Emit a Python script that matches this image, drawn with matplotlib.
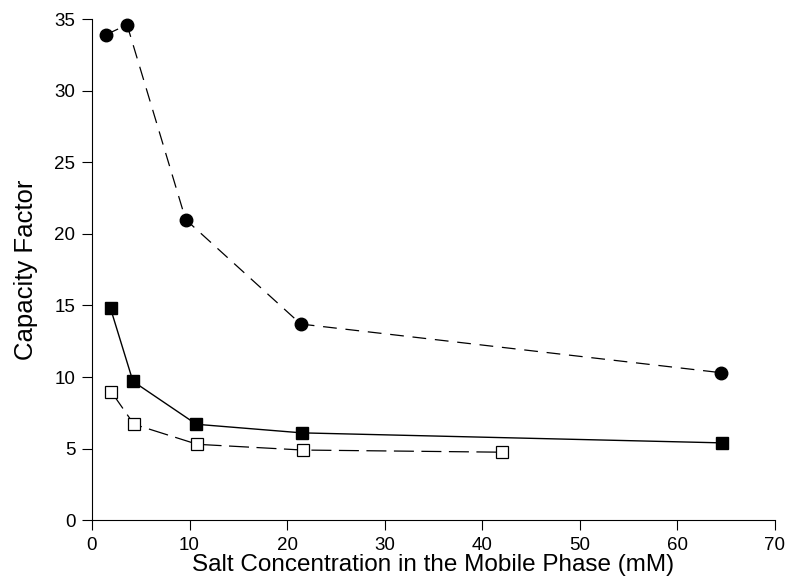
import matplotlib
matplotlib.use("Agg")
import matplotlib.pyplot as plt

plt.rcParams['font.family'] = ['Liberation Sans', 'DejaVu Sans']

# salt concentration (mM) / capacity factor
circle_x = [1.4, 3.6, 9.6, 21.4, 64.5]
circle_y = [33.9, 34.6, 21.0, 13.7, 10.3]

filled_x = [1.9, 4.2, 10.7, 21.5, 64.6]
filled_y = [14.8, 9.7, 6.7, 6.1, 5.4]

open_x = [2.0, 4.3, 10.8, 21.6, 42.0]
open_y = [8.95, 6.7, 5.3, 4.9, 4.75]

xticks = [0, 10, 20, 30, 40, 50, 60, 70]
yticks = [0, 5, 10, 15, 20, 25, 30, 35]

fig = plt.figure(figsize=(7.86, 5.78), dpi=100)
ax = fig.add_axes([0.117, 0.100, 0.869, 0.867])

ax.plot(circle_x, circle_y, color='black', lw=0.9, dashes=(11, 7),
        marker='o', ms=9, mfc='black', mec='black', clip_on=False)
ax.plot(filled_x, filled_y, color='black', lw=1.0, linestyle='-',
        marker='s', ms=9, mfc='black', mec='black', clip_on=False)
ax.plot(open_x, open_y, color='black', lw=0.9, dashes=(16, 6),
        marker='s', ms=8, mfc='white', mec='black', mew=0.9, clip_on=False)

ax.set_xlim(0, 70)
ax.set_ylim(0, 35)
ax.set_xticks(xticks)
ax.set_yticks(yticks)
ax.spines['top'].set_visible(False)
ax.spines['right'].set_visible(False)
ax.tick_params(direction='out', length=7, width=0.8, labelsize=13.5)
ax.tick_params(axis='y', pad=5)
ax.tick_params(axis='x', pad=5)
ax.set_xlabel("Salt Concentration in the Mobile Phase (mM)", fontsize=17.5, labelpad=0)
ax.set_ylabel("Capacity Factor", fontsize=18.5, labelpad=12)

fig.savefig("out.png", dpi=100)
